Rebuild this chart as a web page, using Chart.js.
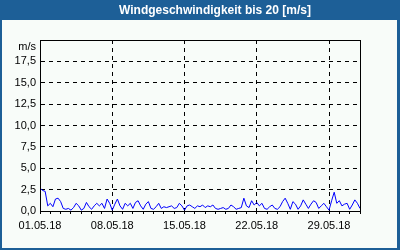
<!DOCTYPE html>
<html>
<head>
<meta charset="utf-8">
<script src="https://cdn.jsdelivr.net/npm/chart.js@4"></script>
<style>
  html, body { margin: 0; padding: 0; background: #f8fcf9; }
  #box { width: 400px; height: 250px; }
</style>
</head>
<body>
<div id="box"><canvas id="windChart" width="400" height="250"></canvas></div>
<script>
// Windgeschwindigkeit Mai 2018, Werte alle 6 Stunden (m/s)
const chartTitle = 'Windgeschwindigkeit bis 20 [m/s]';
const stepDays = 0.25;
const windSpeed = [
    2.7, 2.4, 2.3, 0.6, 0.9, 0.5, 1.4, 1.5, 1.1, 0.3,
    0.2, 0.3, 0.1, 0.4, 0.9, 0.6, 0.1, 0.3, 1.0, 0.5,
    0.2, 0.6, 0.9, 0.6, 0.9, 0.3, 1.4, 0.9, 0.1, 0.8,
    1.4, 0.6, 0.2, 0.9, 0.6, 0.9, 0.3, 1.0, 1.2, 0.6,
    0.2, 0.8, 1.1, 0.3, 0.2, 0.5, 0.9, 0.3, 0.5, 0.4,
    0.5, 0.6, 0.3, 0.4, 0.9, 0.6, 0.1, 0.6, 0.7, 0.5,
    0.3, 0.6, 0.5, 0.7, 0.4, 0.6, 0.5, 0.7, 0.3, 0.2,
    0.3, 0.4, 0.2, 0.3, 0.7, 0.5, 0.2, 0.3, 0.4, 1.5,
    0.6, 0.4, 1.2, 0.7, 1.0, 0.6, 0.9, 0.3, 0.2, 0.5,
    0.7, 0.3, 0.2, 0.5, 1.1, 1.5, 0.9, 0.2, 1.1, 0.8,
    0.2, 0.6, 1.3, 0.8, 0.3, 0.8, 1.2, 1.0, 0.3, 0.6,
    0.9, 0.5, 0.1, 1.2, 2.2, 0.9, 1.2, 0.6, 0.8, 0.9,
    0.2, 0.7, 1.3, 0.9, 0.3
];
const xMaxDays = 31;
const xLabelDays = [0, 7, 14, 21, 28];
const xLabels = ['01.05.18', '08.05.18', '15.05.18', '22.05.18', '29.05.18'];
const yTickValues = [0, 2.5, 5, 7.5, 10, 12.5, 15, 17.5, 20];
const yLabels = ['0,0', '2,5', '5,0', '7,5', '10,0', '12,5', '15,0', '17,5', 'm/s'];

const blau = '#1d5f97';
const font = { family: '"Liberation Sans", Arial, sans-serif', size: 11 };

// Hintergrund, Titelleiste, Rahmen
const rahmenPlugin = {
    id: 'rahmen',
    beforeDraw(chart) {
        const { ctx, width, height } = chart;
        ctx.save();
        ctx.fillStyle = '#f8fcf9';
        ctx.fillRect(0, 0, width, height);
        ctx.fillStyle = blau;
        ctx.fillRect(0, 0, width, 20);
        ctx.fillRect(0, 0, 2, height);
        ctx.fillRect(width - 3, 0, 3, height);
        ctx.fillRect(0, height - 2, width, 2);
        ctx.fillStyle = '#ffffff';
        ctx.font = 'bold 12px "Liberation Sans", Arial, sans-serif';
        ctx.textAlign = 'center';
        ctx.textBaseline = 'middle';
        ctx.fillText(chartTitle, 215, 10.5);
        ctx.restore();
    },
    afterDraw(chart) {
        const { ctx, chartArea: a } = chart;
        ctx.save();
        ctx.strokeStyle = '#000';
        ctx.lineWidth = 1;
        ctx.strokeRect(Math.round(a.left) + 0.5, Math.round(a.top) + 0.5,
            Math.round(a.right - a.left), Math.round(a.bottom - a.top));
        ctx.restore();
    }
};

const punkte = windSpeed.map((v, i) => ({ x: i * stepDays, y: v }));

new Chart(document.getElementById('windChart'), {
    type: 'line',
    data: {
        datasets: [{
            data: punkte,
            borderColor: '#0000ff',
            borderWidth: 1,
            pointRadius: 0,
            tension: 0,
            fill: false
        }]
    },
    options: {
        responsive: false,
        animation: false,
        layout: { padding: { top: 40, right: 40, left: 0, bottom: 0 } },
        plugins: { legend: { display: false }, title: { display: false }, tooltip: { enabled: false } },
        scales: {
            x: {
                type: 'linear',
                min: 0,
                max: xMaxDays,
                afterFit: (s) => { s.height = 39; },
                afterBuildTicks: (s) => {
                    s.ticks = [];
                    for (let d = 0; d <= xMaxDays; d++) s.ticks.push({ value: d });
                },
                ticks: {
                    autoSkip: false,
                    maxRotation: 0,
                    padding: 5,
                    color: '#000',
                    font: font,
                    callback: (v) => {
                        const k = xLabelDays.indexOf(v);
                        return k >= 0 ? xLabels[k] : '';
                    }
                },
                grid: {
                    color: (c) => (c.tick && c.tick.value > 0 && c.tick.value < xMaxDays && c.tick.value % 7 === 0) ? '#000' : 'transparent',
                    tickColor: '#000',
                    tickLength: 3,
                    tickBorderDash: [],
                    lineWidth: 1
                },
                border: { display: true, color: '#000', width: 1, dash: [4, 4] }
            },
            y: {
                min: 0,
                max: 20,
                afterFit: (s) => { s.width = 40; },
                afterBuildTicks: (s) => { s.ticks = yTickValues.map((v) => ({ value: v })); },
                ticks: {
                    autoSkip: false,
                    padding: 4,
                    color: '#000',
                    font: font,
                    callback: (v) => {
                        const k = yTickValues.indexOf(v);
                        if (k === yTickValues.length - 1) return ['', yLabels[k]];
                        return k >= 0 ? yLabels[k] : '';
                    }
                },
                grid: {
                    color: (c) => (c.tick && c.tick.value > 0 && c.tick.value < 20) ? '#000' : 'transparent',
                    drawTicks: false,
                    lineWidth: 1
                },
                border: { display: true, color: '#000', width: 1, dash: [4, 4] }
            }
        }
    },
    plugins: [rahmenPlugin]
});
</script>
</body>
</html>
